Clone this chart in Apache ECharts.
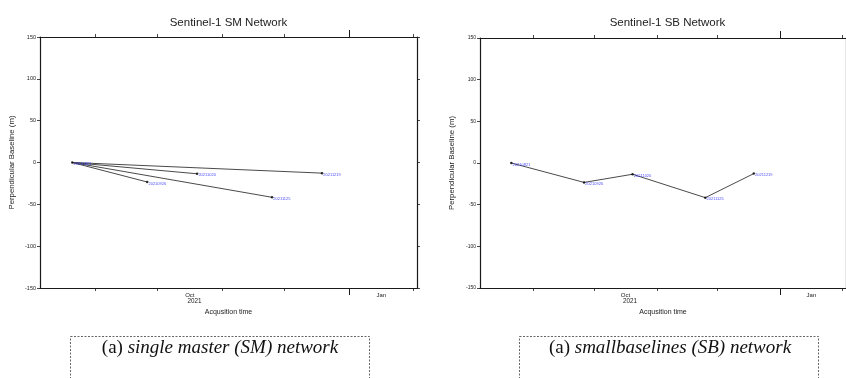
<!DOCTYPE html>
<html>
<head>
<meta charset="utf-8">
<script src="https://cdn.jsdelivr.net/npm/echarts@6/dist/echarts.min.js"></script>
<style>html,body{margin:0;padding:0;background:#fff}#c{width:846px;height:378px}</style>
</head>
<body>
<div id="c"></div>
<script>
// ---- data ----
const acqDates = ['2021-08-21', '2021-09-26', '2021-10-20', '2021-11-25', '2021-12-19'];
const acqLabels = ['20210821', '20210926', '20211020', '20211125', '20211219'];
const baselines = [0, -23.3, -13.5, -41.6, -12.7];
const smEdges = [[0, 1], [0, 2], [0, 3], [0, 4]];
const sbEdges = [[0, 1], [1, 2], [2, 3], [3, 4]];
const monthTicks = ['2021-09-01', '2021-10-01', '2021-11-01', '2021-12-01', '2022-01-01', '2022-02-01'];
const yearTicks = ['2022-01-01'];
const monthLabels = [['2021-10-16', 'Oct'], ['2022-01-16', 'Jan']];
const yearLabel = '2021';
const axisRange = ['2021-08-05', '2022-02-02'];
const yTicks = { min: -150, max: 150, interval: 50 };
const titles = ['Sentinel-1 SM Network', 'Sentinel-1 SB Network'];
const captions = [['(a) ', 'single master (SM) network'], ['(a) ', 'smallbaselines (SB) network']];

function t(s, h) { const p = s.split('-'); return new Date(+p[0], +p[1] - 1, +p[2], h || 0).getTime(); }
const xMin = t(axisRange[0], 12), xMax = t(axisRange[1], 15);
const monthTickVals = monthTicks.map(s => t(s));
const yearTickVals = yearTicks.map(s => t(s));
const monthLabelVals = monthLabels.map(m => t(m[0], 12));
const yearMid = (xMin + yearTickVals[0]) / 2;

const grids = [
  { left: 40, top: 37, width: 377, height: 251 },
  { left: 480, top: 38, width: 377, height: 250 }
];
const ink = '#1a1a1a';

const option = { animation: false, backgroundColor: '#fff', title: [], grid: grids, xAxis: [], yAxis: [], series: [], graphic: [] };

grids.forEach((g, gi) => {
  option.title.push({
    text: titles[gi], left: g.left + g.width / 2 - 5 - (gi === 1 ? 1 : 0), top: 12, textAlign: 'center',
    textStyle: { fontFamily: 'Liberation Sans', fontSize: 11.5, fontWeight: 'normal', color: '#222' }
  });
  const base = { type: 'value', gridIndex: gi, min: xMin, max: xMax, scale: true, splitLine: { show: false } };
  // bottom main axis
  option.xAxis.push(Object.assign({}, base, {
    position: 'bottom',
    name: 'Acqusition time', nameLocation: 'middle', nameGap: 21,
    nameTextStyle: { fontFamily: 'Liberation Sans', fontSize: 7, color: '#222' },
    axisLine: { show: true, onZero: false, lineStyle: { color: ink, width: 1.2 } },
    axisTick: { show: true, inside: false, length: 3, customValues: monthTickVals, lineStyle: { color: ink, width: 0.8 } },
    axisLabel: {
      customValues: monthLabelVals, margin: 4, fontSize: 6, color: '#222', fontFamily: 'Liberation Sans',
      formatter: v => { const i = monthLabelVals.indexOf(v); return i >= 0 ? monthLabels[i][1] : ''; }
    }
  }));
  // top axis
  option.xAxis.push(Object.assign({}, base, {
    position: 'top',
    axisLine: { show: true, onZero: false, lineStyle: { color: ink, width: 1.2 } },
    axisTick: { show: true, inside: false, length: 3, customValues: monthTickVals, lineStyle: { color: ink, width: 0.8 } },
    axisLabel: { show: false }
  }));
  // bottom extra: year tick + year label
  option.xAxis.push(Object.assign({}, base, {
    position: 'bottom',
    axisLine: { show: false, onZero: false },
    axisTick: { show: true, inside: false, length: 7, customValues: yearTickVals, lineStyle: { color: ink, width: 1 } },
    axisLabel: { customValues: [yearMid], margin: 10.5, fontSize: 6.3, color: '#222', fontFamily: 'Liberation Sans', formatter: () => yearLabel }
  }));
  // top extra: year tick
  option.xAxis.push(Object.assign({}, base, {
    position: 'top',
    axisLine: { show: false, onZero: false },
    axisTick: { show: true, inside: false, length: 7, customValues: yearTickVals, lineStyle: { color: ink, width: 1 } },
    axisLabel: { show: false }
  }));
  option.yAxis.push({
    type: 'value', gridIndex: gi, position: 'left', min: yTicks.min, max: yTicks.max, interval: yTicks.interval,
    name: 'Perpendicular Baseline (m)', nameLocation: 'middle', nameGap: 24,
    nameTextStyle: { fontFamily: 'Liberation Sans', fontSize: 7.8, color: '#222' },
    splitLine: { show: false },
    axisLine: { show: true, onZero: false, lineStyle: { color: ink, width: 1.2 } },
    axisTick: { show: true, inside: false, length: 3, lineStyle: { color: ink, width: 0.8 } },
    axisLabel: { fontSize: gi === 0 ? 5.5 : 5, margin: 4, color: '#222', fontFamily: 'Liberation Sans' }
  });
  option.yAxis.push({
    type: 'value', gridIndex: gi, position: 'right', min: yTicks.min, max: yTicks.max, interval: yTicks.interval,
    splitLine: { show: false },
    axisLine: { show: true, onZero: false, lineStyle: { color: ink, width: 1.2 } },
    axisTick: { show: true, inside: false, length: 3, lineStyle: { color: ink, width: 0.8 } },
    axisLabel: { show: false }
  });
  const xi = gi * 4, yi = gi * 2;
  const edges = gi === 0 ? smEdges : sbEdges;
  edges.forEach(e => {
    option.series.push({
      type: 'line', xAxisIndex: xi, yAxisIndex: yi, showSymbol: false, silent: true,
      lineStyle: { color: '#4a4a4a', width: 1 },
      data: e.map(k => [t(acqDates[k]), baselines[k]])
    });
  });
  option.series.push({
    type: 'scatter', xAxisIndex: xi, yAxisIndex: yi, symbol: 'circle', symbolSize: 2.5,
    itemStyle: { color: '#000' }, z: 5,
    data: acqDates.map((d, k) => ({ value: [t(d), baselines[k]], name: acqLabels[k] })),
    label: { show: true, position: 'right', distance: 0, offset: [0, 1.5], formatter: '{b}', fontSize: 4, color: '#2020ff', fontFamily: 'Liberation Sans' }
  });
});

// captions
const boxes = [{ x: 70.5, w: 299, cx: 220 }, { x: 519.5, w: 299, cx: 670 }];
boxes.forEach((b, i) => {
  option.graphic.push({
    type: 'rect', shape: { x: b.x, y: 336.5, width: b.w, height: 60 },
    style: { fill: 'none', stroke: '#666', lineWidth: 1, lineDash: [2, 1.5] }
  });
  option.graphic.push({
    type: 'text', x: b.cx, y: 348,
    style: {
      text: '{n|' + captions[i][0] + '}{it|' + captions[i][1] + '}',
      align: 'center', verticalAlign: 'middle',
      rich: {
        n: { fontFamily: 'Liberation Serif', fontSize: 19, fill: '#111', fontStyle: 'normal' },
        it: { fontFamily: 'Liberation Serif', fontSize: 19, fill: '#111', fontStyle: 'italic' }
      }
    }
  });
});

const chart = echarts.init(document.getElementById('c'), null, { renderer: 'canvas' });
chart.setOption(option);
</script>
</body>
</html>
